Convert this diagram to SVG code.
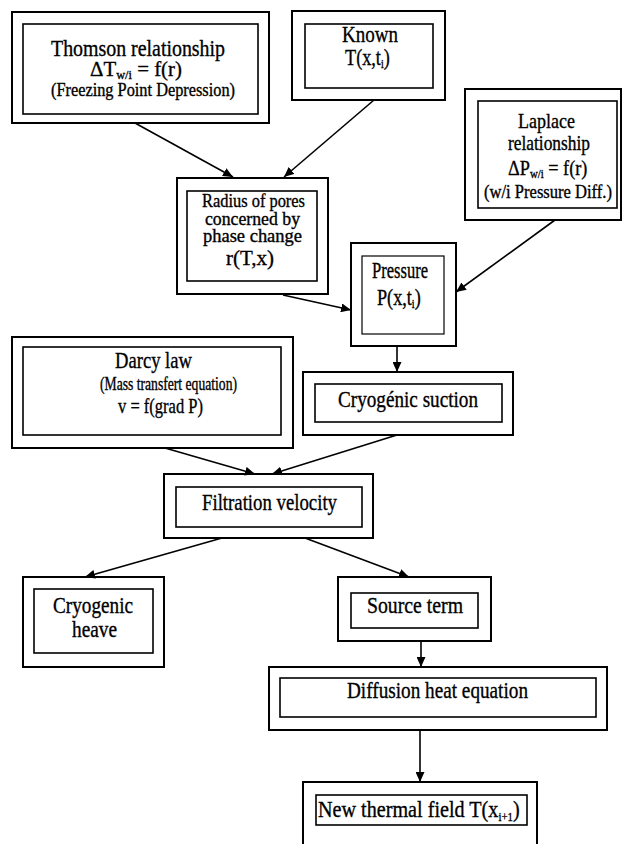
<svg xmlns="http://www.w3.org/2000/svg" width="623" height="844" viewBox="0 0 623 844">
  <style>
    .outer { fill: none; stroke: #000; stroke-width: 2; }
    .inner { fill: none; stroke: #000; stroke-width: 1.6; }
    .thin { stroke-width: 1.2; }
    text { font-family: "Liberation Serif", "Times New Roman", serif; fill: #000; stroke: #000; stroke-width: 0.35; font-size: 24px; }
    .s18 { font-size: 18px; }
    .s19 { font-size: 19px; }
    .s21 { font-size: 21px; }
    .s22 { font-size: 22px; }
    .s23 { font-size: 23px; }
    .sub { font-size: 13px; }
    #connectors line { stroke: #000; stroke-width: 1.6; marker-end: url(#arrow); }
  </style>
  <defs>
    <marker id="arrow" markerUnits="userSpaceOnUse" markerWidth="11" markerHeight="9" refX="10" refY="4.5" orient="auto">
      <path d="M0,0 L10,4.5 L0,9 Z" fill="#000"/>
    </marker>
  </defs>
  <rect width="623" height="844" fill="#fff"/>

  <g id="thomson">
    <rect class="outer" x="12" y="12" width="257" height="111"/>
    <rect class="inner" x="23" y="24" width="235" height="90"/>
    <text x="51" y="56" textLength="174" lengthAdjust="spacingAndGlyphs">Thomson relationship</text>
    <text class="s22" x="90" y="76" transform="matrix(0.95,0,0,1,4.5,0)">ΔT<tspan class="sub" dy="3">w/i</tspan><tspan dy="-3"> = f(r)</tspan></text>
    <text class="s18" x="51" y="96" textLength="184" lengthAdjust="spacingAndGlyphs">(Freezing Point Depression)</text>
  </g>

  <g id="known">
    <rect class="outer" x="292" y="11" width="153" height="89"/>
    <rect class="inner" x="305" y="24" width="128" height="64"/>
    <text x="342" y="42" textLength="56" lengthAdjust="spacingAndGlyphs">Known</text>
    <text x="345" y="65" transform="matrix(0.76,0,0,1,82.8,0)">T(x,t<tspan class="sub" dy="3">i</tspan><tspan dy="-3">)</tspan></text>
  </g>

  <g id="laplace">
    <rect class="outer" x="465" y="89" width="156" height="131"/>
    <rect class="inner" x="478" y="101" width="139" height="107"/>
    <text class="s21" x="518" y="128" textLength="57" lengthAdjust="spacingAndGlyphs">Laplace</text>
    <text class="s21" x="508" y="150" textLength="82" lengthAdjust="spacingAndGlyphs">relationship</text>
    <text class="s22" x="508" y="175" transform="matrix(0.83,0,0,1,86.36,0)">ΔP<tspan class="sub" dy="3">w/i</tspan><tspan dy="-3"> = f(r)</tspan></text>
    <text class="s18" x="484" y="198" textLength="128" lengthAdjust="spacingAndGlyphs">(w/i Pressure Diff.)</text>
  </g>

  <g id="radius">
    <rect class="outer" x="177" y="178" width="151" height="116"/>
    <rect class="inner" x="187" y="191" width="130" height="90"/>
    <text class="s18" x="202" y="207" textLength="103" lengthAdjust="spacingAndGlyphs">Radius of pores</text>
    <text class="s18" x="205" y="225" textLength="95" lengthAdjust="spacingAndGlyphs">concerned by</text>
    <text class="s18" x="203" y="242" textLength="99" lengthAdjust="spacingAndGlyphs">phase change</text>
    <text class="s22" x="226" y="265" textLength="48" lengthAdjust="spacingAndGlyphs">r(T,x)</text>
  </g>

  <g id="pressure">
    <rect class="outer" x="351" y="243" width="105" height="103"/>
    <rect class="inner thin" x="362" y="256" width="82" height="78"/>
    <text class="s23" x="372" y="278" textLength="56" lengthAdjust="spacingAndGlyphs">Pressure</text>
    <text class="s23" x="377" y="305" transform="matrix(0.79,0,0,1,79.17,0)">P(x,t<tspan class="sub" dy="3">i</tspan><tspan dy="-3">)</tspan></text>
  </g>

  <g id="darcy">
    <rect class="outer" x="12" y="337" width="281" height="111"/>
    <rect class="inner" x="23" y="347" width="258" height="88"/>
    <text x="115" y="368" textLength="77" lengthAdjust="spacingAndGlyphs">Darcy law</text>
    <text class="s18" x="100" y="390" textLength="137" lengthAdjust="spacingAndGlyphs">(Mass transfert equation)</text>
    <text class="s22" x="118" y="413" textLength="85" lengthAdjust="spacingAndGlyphs">v = f(grad P)</text>
  </g>

  <g id="suction">
    <rect class="outer" x="303" y="372" width="210" height="63"/>
    <rect class="inner" x="315" y="384" width="187" height="38"/>
    <text x="338" y="407" textLength="140" lengthAdjust="spacingAndGlyphs">Cryogénic suction</text>
  </g>

  <g id="filtration">
    <rect class="outer" x="164" y="474" width="209" height="64"/>
    <rect class="inner" x="176" y="487" width="186" height="40"/>
    <text x="202" y="510" textLength="135" lengthAdjust="spacingAndGlyphs">Filtration velocity</text>
  </g>

  <g id="heave">
    <rect class="outer" x="23" y="577" width="141" height="90"/>
    <rect class="inner" x="34" y="589" width="119" height="64"/>
    <text x="53" y="613" textLength="80" lengthAdjust="spacingAndGlyphs">Cryogenic</text>
    <text x="72" y="637" textLength="45" lengthAdjust="spacingAndGlyphs">heave</text>
  </g>

  <g id="source">
    <rect class="outer" x="338" y="577" width="153" height="64"/>
    <rect class="inner" x="351" y="593" width="127" height="35"/>
    <text x="367" y="613" textLength="96" lengthAdjust="spacingAndGlyphs">Source term</text>
  </g>

  <g id="diffusion">
    <rect class="outer" x="269" y="667" width="338" height="63"/>
    <rect class="inner" x="280" y="678" width="316" height="39"/>
    <text x="347" y="698" textLength="181" lengthAdjust="spacingAndGlyphs">Diffusion heat equation</text>
  </g>

  <g id="newfield">
    <rect class="outer" x="303" y="782" width="234" height="80"/>
    <rect class="inner" x="316" y="795" width="211" height="30"/>
    <text x="318" y="817" transform="matrix(0.84,0,0,1,50.88,0)">New thermal field T(x<tspan class="sub" dy="4">i+1</tspan><tspan dy="-4">)</tspan></text>
  </g>

  <g id="connectors">
    <line x1="135" y1="123" x2="233" y2="177"/>
    <line x1="374" y1="100" x2="284" y2="177"/>
    <line x1="283" y1="295" x2="351" y2="310"/>
    <line x1="555" y1="220" x2="456" y2="292"/>
    <line x1="397" y1="346" x2="397" y2="372"/>
    <line x1="165" y1="448" x2="255" y2="474"/>
    <line x1="397" y1="435" x2="272" y2="474"/>
    <line x1="222" y1="538" x2="85" y2="577"/>
    <line x1="305" y1="538" x2="409" y2="577"/>
    <line x1="421" y1="641" x2="421" y2="667"/>
    <line x1="420" y1="730" x2="420" y2="782"/>
  </g>
</svg>
